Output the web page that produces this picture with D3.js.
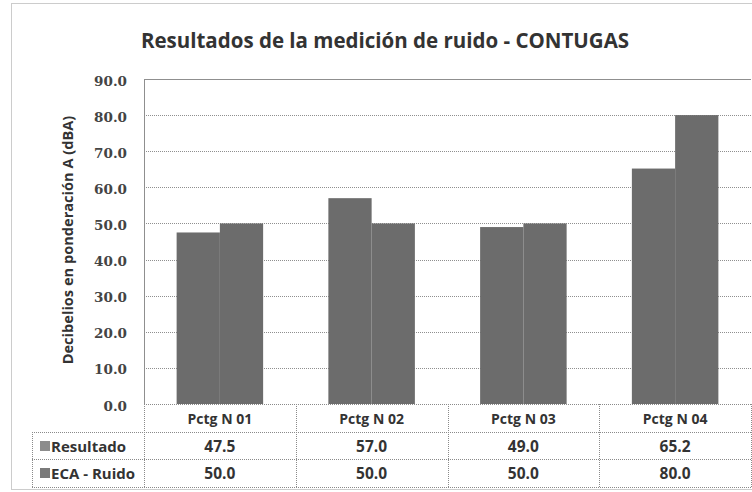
<!DOCTYPE html>
<html>
<head>
<meta charset="utf-8">
<script src="https://cdn.jsdelivr.net/npm/d3@7/dist/d3.min.js"></script>
<style>
  body { margin: 0; background: #fff; }
  svg { display: block; }
</style>
</head>
<body>
<div id="chart"></div>
<script>
const categories = ["Pctg N 01", "Pctg N 02", "Pctg N 03", "Pctg N 04"];
const seriesNames = ["Resultado", "ECA - Ruido"];
const resultado = [47.5, 57.0, 49.0, 65.2];
const ecaRuido = [50.0, 50.0, 50.0, 80.0];
const yTicks = [0, 10, 20, 30, 40, 50, 60, 70, 80, 90];

const width = 752, height = 492;
const plotLeft = 144, plotRight = 751, plotTop = 79, plotBottom = 404;
const rowH = [28, 27, 28];
const tableLeft = 32;
const sans = "'Open Sans', sans-serif";
const serif = "'DejaVu Serif', serif";
const barColor = "#6c6c6c";
const keyColor = ["#8c8c8c", "#7a7a7a"];

const series = [resultado, ecaRuido];

const svg = d3.select("#chart").append("svg")
    .attr("width", width)
    .attr("height", height);

// outer frame
svg.append("rect")
    .attr("x", 11.5).attr("y", 3.5)
    .attr("width", 760).attr("height", 486)
    .attr("fill", "none")
    .attr("stroke", "#999")
    .attr("stroke-dasharray", "1,1");

// title
svg.append("text")
    .attr("x", 385).attr("y", 48)
    .attr("text-anchor", "middle")
    .style("font-family", sans)
    .style("font-size", "20.5px")
    .style("font-weight", "bold")
    .attr("fill", "#333")
    .text("Resultados de la medición de ruido - CONTUGAS");

const y = d3.scaleLinear().domain([0, 90]).range([plotBottom, plotTop]);
const x0 = d3.scaleBand().domain(categories).range([plotLeft, plotRight])
    .paddingInner(0.43).paddingOuter(0.215);
const x1 = d3.scaleBand().domain(seriesNames).range([0, x0.bandwidth()]);

// gridlines
svg.append("g")
    .selectAll("line")
    .data(yTicks.filter(t => t > 0))
    .join("line")
    .attr("x1", plotLeft).attr("x2", plotRight)
    .attr("y1", d => Math.round(y(d)) + 0.5)
    .attr("y2", d => Math.round(y(d)) + 0.5)
    .attr("stroke", "#8f8f8f")
    .attr("stroke-dasharray", d => d === 90 ? null : "1,1");

// y axis
const yAxis = svg.append("g")
    .attr("transform", `translate(${plotLeft},0)`)
    .call(d3.axisLeft(y).tickValues(yTicks).tickSize(0).tickPadding(17)
        .tickFormat(d3.format(".1f")));
yAxis.select(".domain").attr("stroke", "#8f8f8f");
yAxis.selectAll("text")
    .attr("dy", "0.45em")
    .style("font-family", serif)
    .style("font-size", "13.5px")
    .style("font-weight", "bold")
    .attr("fill", "#444");

// y label
svg.append("text")
    .attr("transform", `translate(73,240) rotate(-90)`)
    .attr("text-anchor", "middle")
    .style("font-family", sans)
    .style("font-size", "14.6px")
    .style("font-weight", "bold")
    .attr("fill", "#333")
    .text("Decibelios en ponderación A (dBA)");

// bars
svg.append("g")
    .selectAll("g")
    .data(categories)
    .join("g")
    .attr("transform", d => `translate(${x0(d)},0)`)
    .selectAll("rect")
    .data((d, i) => seriesNames.map((s, j) => ({ s, v: series[j][i] })))
    .join("rect")
    .attr("x", d => x1(d.s))
    .attr("y", d => y(d.v))
    .attr("width", x1.bandwidth())
    .attr("height", d => y(0) - y(d.v))
    .attr("fill", barColor);

// data table
const table = svg.append("g");
const rowTops = [plotBottom, plotBottom + rowH[0], plotBottom + rowH[0] + rowH[1]];
const tableBottom = rowTops[2] + rowH[2];
const step = x0.step();
const colEdges = d3.range(categories.length + 1).map(i => plotLeft + i * step);

function hline(x1p, x2p, yp) {
    table.append("line")
        .attr("x1", x1p).attr("x2", x2p)
        .attr("y1", yp + 0.5).attr("y2", yp + 0.5)
        .attr("stroke", "#8a8a8a").attr("stroke-dasharray", "1,1");
}
function vline(xp, y1p, y2p) {
    table.append("line")
        .attr("x1", xp + 0.5).attr("x2", xp + 0.5)
        .attr("y1", y1p).attr("y2", y2p)
        .attr("stroke", "#8a8a8a").attr("stroke-dasharray", "1,1");
}
hline(plotLeft, plotRight, plotBottom);
hline(tableLeft, plotRight, rowTops[1]);
hline(tableLeft, plotRight, rowTops[2]);
hline(tableLeft, plotRight, tableBottom);
vline(tableLeft, rowTops[1], tableBottom);
colEdges.forEach(cx => vline(Math.round(cx), plotBottom, tableBottom));

// category labels
table.selectAll(".cat")
    .data(categories)
    .join("text")
    .attr("class", "cat")
    .attr("x", d => x0(d) + x0.bandwidth() / 2)
    .attr("y", rowTops[0] + 20)
    .attr("text-anchor", "middle")
    .style("font-family", sans)
    .style("font-size", "14px")
    .style("font-weight", "bold")
    .attr("fill", "#333")
    .text(d => d);

// series rows
seriesNames.forEach((s, j) => {
    const ty = rowTops[j + 1];
    table.append("rect")
        .attr("x", 40).attr("y", ty + 9)
        .attr("width", 10).attr("height", 10)
        .attr("fill", keyColor[j]);
    table.append("text")
        .attr("x", 51).attr("y", ty + 20)
        .style("font-family", sans)
        .style("font-size", "15px")
        .style("font-weight", "bold")
        .attr("fill", "#333")
        .text(s);
    table.selectAll(".v" + j)
        .data(categories)
        .join("text")
        .attr("class", "v" + j)
        .attr("x", (d) => x0(d) + x0.bandwidth() / 2)
        .attr("y", ty + 20)
        .attr("text-anchor", "middle")
        .style("font-family", sans)
        .style("font-size", "15.5px")
        .style("font-weight", "bold")
        .attr("fill", "#333")
        .text((d, i) => d3.format(".1f")(series[j][i]));
});
</script>
</body>
</html>
